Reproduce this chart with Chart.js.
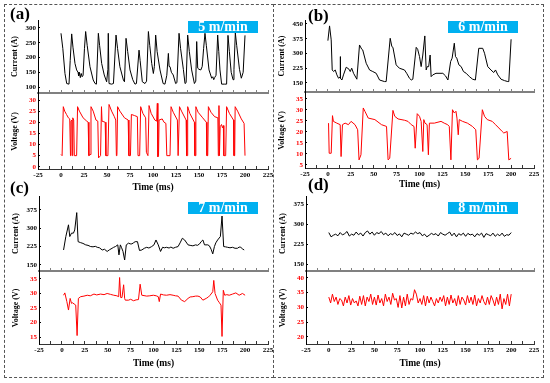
<!DOCTYPE html>
<html>
<head>
<meta charset="utf-8">
<script src="https://cdn.jsdelivr.net/npm/chart.js@4.4.0/dist/chart.umd.min.js"></script>
<style>
html, body { margin: 0; padding: 0; background: #fff; }
#wrap { position: relative; width: 550px; height: 383px; overflow: hidden; font-family: "Liberation Serif", "Times New Roman", serif; }
.box { position: absolute; border: 1.5px dashed #555; box-sizing: border-box; }
canvas { position: absolute; }
.lab { position: absolute; font-weight: bold; font-size: 17px; line-height: 17px; color: #000; }
.speed { position: absolute; background: #00b0f0; color: #fff; font-weight: bold; font-size: 14px; line-height: 12px; height: 12px; width: 70px; text-align: center; }
</style>
</head>
<body>
<div id="wrap">
  <div class="box" style="left:4px;top:4px;width:270px;height:374px"></div>
  <div class="box" style="left:273px;top:4px;width:271px;height:374px;border-left:none"></div>
  <canvas id="curA"></canvas>
  <canvas id="volA"></canvas>
  <canvas id="curB"></canvas>
  <canvas id="volB"></canvas>
  <canvas id="curC"></canvas>
  <canvas id="volC"></canvas>
  <canvas id="curD"></canvas>
  <canvas id="volD"></canvas>
  <div class="lab" style="left:10px;top:5px">(a)</div>
  <div class="lab" style="left:308px;top:7px">(b)</div>
  <div class="lab" style="left:10px;top:179px">(c)</div>
  <div class="lab" style="left:308px;top:176px">(d)</div>
  <div class="speed" style="left:188px;top:21px">5 m/min</div>
  <div class="speed" style="left:448px;top:21px">6 m/min</div>
  <div class="speed" style="left:188px;top:202px">7 m/min</div>
  <div class="speed" style="left:448px;top:202px">8 m/min</div>
</div>
<script>
// tick values
var timeTicks = [-25, -12.5, 0, 12.5, 25, 37.5, 50, 62.5, 75, 87.5, 100, 112.5, 125, 137.5, 150, 162.5, 175, 187.5, 200, 212.5, 225];
var curTicksA = [100, 150, 200, 250, 300];
var volTicksA = [0, 5, 10, 15, 20, 25, 30];
var curTicksB = [150, 225, 300, 375, 450];
var volTicksB = [5, 10, 15, 20, 25, 30, 35];
var curTicksC = [150, 225, 300, 375];
var volTicksC = [15, 20, 25, 30, 35];
var curTicksD = [150, 225, 300, 375];
var volTicksD = [20, 25, 30, 35, 40];

// (a) 5 m/min  [time ms, value]
var currentA = [[0,282],[2,230],[4.3,146],[6.2,112],[8.7,110],[10,190],[11.6,280],[13,235],[15.2,180],[17,158],[18.5,150],[19.2,138],[20,150],[21,132],[22,146],[23,135],[24,140],[25.5,230],[26.8,288],[28.5,240],[31.5,169],[35,124],[37,112],[38.5,110],[40.6,282],[42,240],[44.2,180],[47,141],[49.6,118],[51,160],[51.4,282],[52.2,112],[55,110],[57,112],[59.8,276],[61.5,230],[64,169],[67.8,124],[69,118],[70.7,265],[72.5,220],[75,158],[78,125],[80.4,110],[82,112],[84.8,225],[86,190],[88.4,118],[91.3,112],[93,120],[95,288],[96.5,240],[98.6,180],[100.4,146],[101.5,170],[102.9,276],[104.5,220],[107.6,158],[111,112],[113,110],[115,140],[116.7,214],[117.5,170],[118.5,169],[120,150],[122,141],[124.6,112],[126,115],[128.3,282],[130,230],[133,160],[134.8,112],[136,115],[137.7,276],[139.5,220],[142,158],[145,112],[146.5,120],[147.5,254],[148.6,164],[150,160],[152,158],[153.5,170],[155,230],[156.5,282],[158,240],[160.9,158],[163.8,130],[165,135],[166,125],[167,132],[168.5,140],[170.3,276],[171.5,220],[172.8,158],[174.6,110],[178,110],[180,110],[181.5,275],[183,220],[185,150],[187,125],[188,160],[189.5,283],[191,240],[194,160],[196,130],[198,150],[200,275]];
var voltageA = [[0,5.5],[1.2,5],[2.5,27],[4,25],[6,23.5],[8,22],[9.5,21.5],[10.3,5],[10.8,20.5],[11.8,21],[12.3,5],[12.8,22],[13.8,21],[14.5,5],[17,5],[18,27],[20,25],[24,22],[28,20.5],[29.5,20],[30.3,5],[31.6,5.5],[32.6,27],[35,25],[38,21],[40,20.5],[40.8,4],[43,5],[44,27],[44.6,20.5],[48,20],[48.8,5],[51,5],[52.2,28],[55,25],[58,22.5],[59.5,21],[60.2,5],[60.8,5.5],[61.5,27],[64,25],[69,22],[73,21],[73.8,5],[75.5,5],[76.5,23.5],[80,23],[83,22.5],[83.7,5],[85.5,5],[86.6,27],[89,24],[92,22],[92.8,6.5],[94.5,5],[95.7,27.5],[98,24],[102,21],[104,20.5],[104.7,28.5],[105.3,4.5],[106,5],[106.6,21],[110,21.5],[112,20],[114,19.5],[115,5],[118.5,5],[119.6,27],[122,24.5],[126.5,21],[127.3,5],[128,5],[128.8,27],[131,25],[136,21],[136.5,5],[137.2,5],[137.7,27],[140,24],[145,20],[145.5,5],[146,5],[146.6,27],[149,24.5],[154,22],[158,20],[158.6,5],[159.5,5],[160.2,27],[163,24.5],[167,22.5],[170.5,22],[171,5],[171.7,27.5],[172.2,5],[173,18],[174.5,19],[175.5,17.5],[176.5,18.5],[177,5],[179,5],[180,27],[183,24],[187.5,21],[188,5],[188.8,5],[189.3,27],[192,25],[196,21.5],[199,19.5],[200,5]];

// (b) 6 m/min
var currentB = [[0,365],[1.8,440],[3.6,369],[4.7,216],[6.2,208],[8,216],[9.8,191],[11.6,174],[13.3,180],[13.5,284],[13.8,174],[15.3,165],[17,191],[20,230],[23,220],[24.4,208],[26,225],[28,199],[31.6,169],[34.5,343],[37,321],[38,318],[41.8,250],[45.5,216],[49,208],[52.7,199],[56.4,165],[61.8,157],[63.6,157],[68,377],[69.8,335],[71,331],[74.5,242],[78,225],[83.6,216],[86,199],[89,174],[91,165],[92.7,169],[96.4,331],[98,321],[100,284],[101.8,233],[103.6,292],[105.8,389],[107.3,216],[108.4,233],[110,233],[111.6,292],[112.7,182],[114.5,191],[118,199],[125.5,199],[128.4,186],[131,165],[134,259],[135.6,276],[138,352],[139.3,284],[140.7,276],[143,242],[145.5,233],[148,208],[151,199],[154.5,182],[158,169],[161,165],[164.7,326],[169,326],[171,301],[174.5,233],[178,216],[181,203],[183,216],[185.5,191],[189,169],[192.7,162],[196.4,157],[197.5,157],[200,372]];
var voltageB = [[0.7,24],[1.4,10.3],[3.6,10.3],[5,27.4],[6,24.8],[9.7,24],[13.4,23.3],[14.4,8.8],[15.9,23.3],[18.8,24],[22.4,23.3],[25.3,24.8],[29.6,23.3],[32.5,21],[34,7.3],[36.1,9.6],[38.6,30.9],[40.4,29.4],[44,26.3],[51.3,25.6],[58.5,23.3],[64,22.5],[65.7,7.3],[67.5,8],[71,29.8],[73,27.1],[76.6,25.9],[83.8,25.3],[87.4,24.8],[91,23.3],[94,22.5],[95.3,12.6],[97.5,28.3],[100,27.1],[101.8,24.8],[103.6,11.1],[104.7,25.6],[106,24],[108.3,23.3],[109.7,9.6],[110.8,24],[116.2,24],[123.5,24.8],[127,24],[130.7,23.3],[132.5,22.5],[134.3,7.3],[136,30.1],[138,28.6],[139.8,29.4],[140.9,26.3],[142.3,18.7],[143.4,25.6],[147,24.8],[152.3,24],[157.8,22.5],[161.4,21],[163.2,7.3],[165,8],[168.6,30.1],[171,27.1],[174,25.6],[179.4,24.8],[183,23.3],[186.6,21.8],[190.3,20.2],[192,19.5],[195.7,20.2],[197.5,7.3],[200,8]];

// (c) 7 m/min
var currentC = [[1.8,211],[4.3,266],[7.2,314],[8.6,266],[10.5,280],[12.6,280],[14,293],[16.2,364],[17.7,245],[20.5,241],[23,238],[26,232],[28.5,230],[31.4,225],[34,224],[36.5,226],[38.6,222],[41,220],[44,211],[46.5,214],[49.4,205],[52,212],[54.8,218],[56.5,222],[58.4,225],[61,232],[62.3,191],[63.8,232],[65,222],[66.7,205],[68.5,170],[70.3,232],[72.8,239],[74.5,236],[76.4,236],[78,240],[80,245],[82.5,245],[84.7,209],[87.2,211],[90,218],[92.6,222],[95,219],[98,225],[100.5,232],[102.7,252],[105.2,232],[107.7,205],[109.9,222],[112,220],[114.2,222],[117,219],[119,223],[121.4,218],[124,222],[126.8,225],[129,240],[131.5,259],[134,252],[137.7,232],[140,230],[143,228],[146,232],[148,230],[150.3,236],[152,245],[153.9,252],[155.7,232],[159.3,232],[161,228],[162.9,214],[164.7,195],[166.5,225],[168,240],[170,252],[173,266],[174.8,350],[176.6,225],[178.5,224],[180.9,222],[183.5,220],[186.3,222],[189,218],[191.7,218],[193.5,223],[195.3,222],[197,216],[199,211]];
var voltageC = [[1.8,29.4],[3.2,30.2],[5.4,27.2],[7.2,24.3],[9,28.3],[10.5,26.6],[11.5,26.8],[13.3,26.4],[15.1,26],[16.6,15.5],[18,28.3],[20.5,28.9],[24.1,29.1],[27.7,29.4],[31,29.2],[35,29.8],[38,29.5],[42.2,29.8],[46,29.6],[49.4,30],[53,29.7],[56.6,29.4],[60,29.2],[62,28.9],[63,35.5],[64.2,28.6],[65.6,28.6],[67.4,33],[68.5,28.3],[69.2,27.7],[72.8,27.7],[75,28],[78.2,27.5],[81,27.8],[83.6,27.9],[85.4,33.2],[87.2,29.4],[92.6,29.1],[96,29.2],[99.8,29.4],[103,29.2],[105.2,28.9],[106.3,27.2],[107.7,29.8],[111,29.5],[114.2,29.4],[118,29.6],[121.4,29.4],[124,29.2],[126.8,29.1],[130.5,27.7],[134,27.2],[137.7,28.3],[140,28.8],[143,28.9],[146,29.1],[148.5,29.1],[151,28.8],[153.9,27.7],[157.5,28.3],[160,28.8],[161.8,29.4],[164.7,30.6],[165.8,34.5],[167.2,30],[170,27.7],[172,26.8],[173.7,26],[174.8,15.2],[176.2,31.1],[177.7,29.4],[180,29.6],[182.7,29.4],[186.3,29.8],[189.9,30.2],[193.5,29.4],[197.1,30],[200,29.4]];

// (d) 8 m/min, sampled every stepCurD / stepVolD ms from t = 0
var stepCurD = 2.5;
var currentD = [268,252,258,262,256,268,259,264,272,255,262,258,270,260,266,255,268,274,262,270,258,268,264,272,260,266,256,264,260,268,257,263,252,266,262,258,266,262,270,264,268,256,262,252,258,265,260,264,255,268,262,258,264,270,256,266,252,264,258,266,254,265,259,262,252,264,258,266,250,264,260,256,266,254,262,256,266,254,260,258,268];
var stepVolD = 2;
var voltageD = [33.5,31.5,34.5,32,33.5,31,33,32.5,30.5,33.5,31.5,34,30.8,33,31.5,32.2,30.5,33.8,31,34,
  30.5,33.5,32,34.5,31,33.5,30.8,34.2,31.5,33,30.5,34.5,32,33.5,31,34.8,32.5,33,30,34,
  29.8,33.5,30.5,34.5,31,33,32.5,36,34.5,31.5,33,31,34,30.5,33.8,31.5,33.5,32,30.5,33,
  31.5,33.5,32,34,30.5,33.5,31,34.2,31.5,33,30.5,34,31,33.5,32.5,30.8,34,31.5,33.5,31,
  34.2,30.5,33,31.5,34,32,30.8,33.5,31,34,32.5,30.5,33.5,31,34.5,29.5,33,31,34.5,30.5,34.5];

var YW = 34, PT = 6, PR = 10;
Chart.defaults.font.family = '"Liberation Serif", "Times New Roman", serif';

function toPoints(pairs) {
    return pairs.map(function (p) { return { x: p[0], y: p[1] }; });
}
function sampled(vals, step) {
    return vals.map(function (v, i) { return { x: i * step, y: v }; });
}

// one sub plot; g = plot area box in page pixels
function makePlot(id, g, points, o) {
    var cv = document.getElementById(id);
    cv.width = YW + (g.R - g.L) + PR;
    cv.height = PT + (g.B - g.T) + o.xh;
    cv.style.left = (g.L - YW) + 'px';
    cv.style.top = (g.T - PT) + 'px';
    return new Chart(cv, {
        type: 'line',
        data: {
            datasets: [{
                data: points,
                borderColor: o.color,
                borderWidth: 1,
                pointRadius: 0,
                tension: 0,
                fill: false
            }]
        },
        options: {
            responsive: false,
            animation: false,
            devicePixelRatio: 1,
            layout: { padding: { left: 0, top: PT, right: PR, bottom: 0 } },
            plugins: { legend: { display: false }, tooltip: { enabled: false } },
            scales: {
                x: {
                    type: 'linear', min: -25, max: 225,
                    afterBuildTicks: function (s) { s.ticks = timeTicks.map(function (v) { return { value: v }; }); },
                    afterFit: function (s) { s.height = o.xh; s.paddingLeft = 0; s.paddingRight = 0; },
                    border: { display: true, color: o.axisColor, width: o.axisWidth },
                    grid: { drawOnChartArea: false, drawTicks: true, tickLength: -3, tickColor: o.axisColor, tickWidth: 1 },
                    ticks: {
                        padding: 5, color: '#000', maxRotation: 0, autoSkip: false,
                        font: { size: 7, weight: 'bold' },
                        callback: function (v) { return (o.showTime && v % 25 === 0) ? String(v) : ''; }
                    },
                    title: { display: o.showTime, text: 'Time (ms)', color: '#000', font: { size: 9.5, weight: 'bold' }, padding: 0 }
                },
                y: {
                    min: o.min, max: o.max,
                    afterBuildTicks: function (s) { s.ticks = o.ticks.map(function (v) { return { value: v }; }); },
                    afterFit: function (s) { s.width = YW; s.paddingTop = 0; s.paddingBottom = 0; },
                    border: { display: true, color: '#000', width: 1 },
                    grid: { drawOnChartArea: false, drawTicks: true, tickLength: -2, tickColor: '#000' },
                    ticks: { padding: 4, color: o.labelColor, font: { size: 7, weight: 'bold' } },
                    title: { display: true, text: o.title, color: '#000', font: { size: 8, weight: 'bold' }, padding: { top: 6, bottom: 0 } }
                }
            }
        }
    });
}

function curOpts(min, max, ticks) {
    return { color: '#000', labelColor: '#000', title: 'Current (A)', min: min, max: max, ticks: ticks,
             xh: 3, axisColor: '#808080', axisWidth: 2, showTime: false };
}
function volOpts(min, max, ticks, xh) {
    return { color: '#ff0000', labelColor: '#ff0000', title: 'Voltage (V)', min: min, max: max, ticks: ticks,
             xh: xh, axisColor: '#333', axisWidth: 1, showTime: true };
}

makePlot('curA', { L: 38, R: 268, T: 20, B: 93 }, toPoints(currentA), curOpts(80, 327, curTicksA));
makePlot('volA', { L: 38, R: 268, T: 94, B: 169 }, toPoints(voltageA), volOpts(-1, 32.7, volTicksA, 24));
makePlot('curB', { L: 305, R: 534, T: 20, B: 92 }, toPoints(currentB), curOpts(104, 470, curTicksB));
makePlot('volB', { L: 305, R: 534, T: 93, B: 168 }, toPoints(voltageB), volOpts(3.6, 37.7, volTicksB, 22));
makePlot('curC', { L: 39, R: 268, T: 196, B: 271 }, toPoints(currentC), curOpts(125, 432, curTicksC));
makePlot('volC', { L: 39, R: 268, T: 272, B: 344 }, toPoints(voltageC), volOpts(12.6, 37.4, volTicksC, 25));
makePlot('curD', { L: 306, R: 534, T: 196, B: 271 }, sampled(currentD, stepCurD), curOpts(124, 405, curTicksD));
makePlot('volD', { L: 306, R: 534, T: 272, B: 344 }, sampled(voltageD, stepVolD), volOpts(17.6, 42, volTicksD, 25));
</script>
</body>
</html>
